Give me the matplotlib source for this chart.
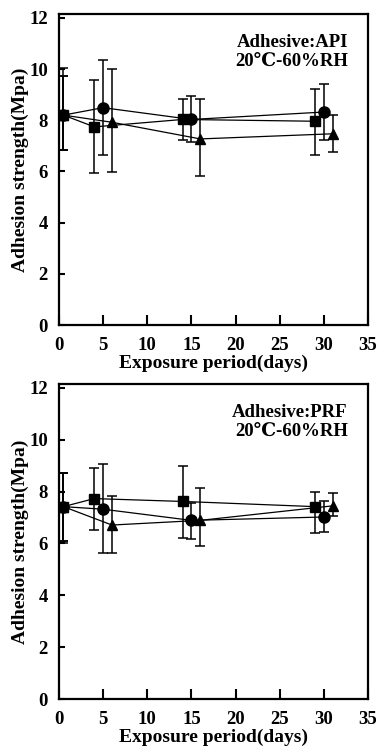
import matplotlib
matplotlib.use("Agg")
import matplotlib.pyplot as plt
import numpy as np

plt.rcParams['font.family'] = ['Liberation Serif', 'DejaVu Serif']
plt.rcParams['font.weight'] = 'bold'

# ---- data: API panel ----
api_sq_x = [0.5, 4, 14, 29]
api_sq_y = [8.2, 7.74, 8.03, 7.96]
api_sq_hi = [9.73, 9.58, 8.81, 9.23]
api_sq_lo = [6.83, 5.93, 7.21, 6.66]

api_ci_x = [0.5, 5, 15, 30]
api_ci_y = [8.2, 8.49, 8.03, 8.32]
api_ci_hi = [10.05, 10.34, 8.94, 9.40]
api_ci_lo = [6.83, 6.66, 7.14, 7.21]

api_tr_x = [0.5, 6, 16, 31]
api_tr_y = [8.2, 7.92, 7.27, 7.47]
api_tr_hi = [9.73, 9.99, 8.81, 8.22]
api_tr_lo = [6.83, 5.97, 5.81, 6.76]

# ---- data: PRF panel ----
prf_sq_x = [0.5, 4, 14, 29]
prf_sq_y = [7.42, 7.73, 7.62, 7.42]
prf_sq_hi = [8.70, 8.90, 9.00, 8.00]
prf_sq_lo = [6.10, 6.52, 6.21, 6.42]

prf_ci_x = [0.5, 5, 15, 30]
prf_ci_y = [7.42, 7.32, 6.89, 7.02]
prf_ci_hi = [8.70, 9.06, 7.55, 7.64]
prf_ci_lo = [6.03, 5.64, 6.16, 6.44]

prf_tr_x = [0.5, 6, 16, 31]
prf_tr_y = [7.42, 6.71, 6.89, 7.45]
prf_tr_hi = [8.70, 7.84, 8.12, 7.94]
prf_tr_lo = [6.10, 5.64, 5.90, 7.06]

x_ticks = [0, 5, 10, 15, 20, 25, 30, 35]
y_ticks = [0, 2, 4, 6, 8, 10, 12]
titles = ["Adhesive:API\n20\u2103-60%RH", "Adhesive:PRF\n20\u2103-60%RH"]

fig = plt.figure(figsize=(3.79, 7.56), dpi=100)
W, H = 379, 756
rects = [(59, 14, 368, 325), (59, 384, 368, 699)]

panels = [
    [(api_sq_x, api_sq_y, api_sq_lo, api_sq_hi, 's'),
     (api_ci_x, api_ci_y, api_ci_lo, api_ci_hi, 'o'),
     (api_tr_x, api_tr_y, api_tr_lo, api_tr_hi, '^')],
    [(prf_sq_x, prf_sq_y, prf_sq_lo, prf_sq_hi, 's'),
     (prf_ci_x, prf_ci_y, prf_ci_lo, prf_ci_hi, 'o'),
     (prf_tr_x, prf_tr_y, prf_tr_lo, prf_tr_hi, '^')],
]

for (l, t, r, b), series, title in zip(rects, panels, titles):
    ax = fig.add_axes([l / W, (H - b) / H, (r - l) / W, (b - t) / H])
    for xs, ys, lo, hi, m in series:
        ys = np.array(ys)
        yerr = [ys - np.array(lo), np.array(hi) - ys]
        ax.errorbar(xs, ys, yerr=yerr, fmt='-', marker=m, color='black',
                    ms=7.5 if m != 'o' else 8, lw=0.9, elinewidth=1.1,
                    capsize=3.5, capthick=1.1, zorder=3)
    ax.set_xlim(0, 35)
    ax.set_ylim(0, 12.15)
    ax.set_xticks(x_ticks)
    ax.set_yticks(y_ticks)
    ax.tick_params(axis='x', direction='in', length=7, width=1.5, labelsize=13.5,
                   top=False, pad=9)
    ax.tick_params(axis='y', direction='in', length=4, width=1.5, labelsize=13.5,
                   right=False, pad=8)
    for lab in ax.get_xticklabels() + ax.get_yticklabels():
        lab.set_fontweight('bold')
    for s in ax.spines.values():
        s.set_linewidth(1.6)
    ax.set_xlabel("Exposure period(days)", fontsize=14, fontweight='bold', labelpad=0)
    ax.set_ylabel("Adhesion strength(Mpa)", fontsize=14, fontweight='bold', labelpad=0)
    ax.text(0.935, 0.935, title, transform=ax.transAxes, ha='right', va='top',
            fontsize=13.5, fontweight='bold', linespacing=1.1)

fig.savefig("out.png", dpi=100)
